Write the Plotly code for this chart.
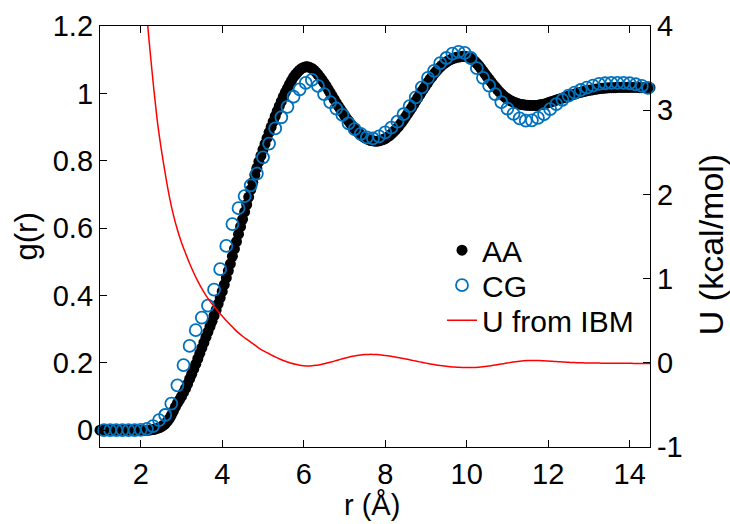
import plotly.graph_objects as go

# ---------------- data ----------------
AA_r = [
    1.00, 1.05, 1.10, 1.15, 1.20, 1.25, 1.30, 1.35, 1.40, 1.45,
    1.50, 1.55, 1.60, 1.65, 1.70, 1.75, 1.80, 1.85, 1.90, 1.95,
    2.00, 2.05, 2.10, 2.15, 2.20, 2.25, 2.30, 2.35, 2.40, 2.45,
    2.50, 2.55, 2.60, 2.65, 2.70, 2.75, 2.80, 2.85, 2.90, 2.95,
    3.00, 3.05, 3.10, 3.15, 3.20, 3.25, 3.30, 3.35, 3.40, 3.45,
    3.50, 3.55, 3.60, 3.65, 3.70, 3.75, 3.80, 3.85, 3.90, 3.95,
    4.00, 4.05, 4.10, 4.15, 4.20, 4.25, 4.30, 4.35, 4.40, 4.45,
    4.50, 4.55, 4.60, 4.65, 4.70, 4.75, 4.80, 4.85, 4.90, 4.95,
    5.00, 5.05, 5.10, 5.15, 5.20, 5.25, 5.30, 5.35, 5.40, 5.45,
    5.50, 5.55, 5.60, 5.65, 5.70, 5.75, 5.80, 5.85, 5.90, 5.95,
    6.00, 6.05, 6.10, 6.15, 6.20, 6.25, 6.30, 6.35, 6.40, 6.45,
    6.50, 6.55, 6.60, 6.65, 6.70, 6.75, 6.80, 6.85, 6.90, 6.95,
    7.00, 7.05, 7.10, 7.15, 7.20, 7.25, 7.30, 7.35, 7.40, 7.45,
    7.50, 7.55, 7.60, 7.65, 7.70, 7.75, 7.80, 7.85, 7.90, 7.95,
    8.00, 8.05, 8.10, 8.15, 8.20, 8.25, 8.30, 8.35, 8.40, 8.45,
    8.50, 8.55, 8.60, 8.65, 8.70, 8.75, 8.80, 8.85, 8.90, 8.95,
    9.00, 9.05, 9.10, 9.15, 9.20, 9.25, 9.30, 9.35, 9.40, 9.45,
    9.50, 9.55, 9.60, 9.65, 9.70, 9.75, 9.80, 9.85, 9.90, 9.95,
    10.00, 10.05, 10.10, 10.15, 10.20, 10.25, 10.30, 10.35, 10.40, 10.45,
    10.50, 10.55, 10.60, 10.65, 10.70, 10.75, 10.80, 10.85, 10.90, 10.95,
    11.00, 11.05, 11.10, 11.15, 11.20, 11.25, 11.30, 11.35, 11.40, 11.45,
    11.50, 11.55, 11.60, 11.65, 11.70, 11.75, 11.80, 11.85, 11.90, 11.95,
    12.00, 12.05, 12.10, 12.15, 12.20, 12.25, 12.30, 12.35, 12.40, 12.45,
    12.50, 12.55, 12.60, 12.65, 12.70, 12.75, 12.80, 12.85, 12.90, 12.95,
    13.00, 13.05, 13.10, 13.15, 13.20, 13.25, 13.30, 13.35, 13.40, 13.45,
    13.50, 13.55, 13.60, 13.65, 13.70, 13.75, 13.80, 13.85, 13.90, 13.95,
    14.00, 14.05, 14.10, 14.15, 14.20, 14.25, 14.30, 14.35, 14.40, 14.45,
    14.50,
]
AA_g = [
    0, 0, 0, 0, 0, 0, 0, 0, 0, 0,
    0, 0, 0, 0, 0, 0, 0, 0, 0, 0,
    0, 0, 0, 0, 0, 0.001, 0.002, 0.003, 0.005, 0.007,
    0.010, 0.014, 0.019, 0.026, 0.034, 0.044, 0.056, 0.069, 0.080, 0.090,
    0.100, 0.112, 0.124, 0.137, 0.152, 0.166, 0.181, 0.196, 0.212, 0.228,
    0.244, 0.260, 0.276, 0.292, 0.308, 0.323, 0.340, 0.357, 0.375, 0.393,
    0.412, 0.432, 0.452, 0.473, 0.494, 0.516, 0.538, 0.560, 0.582, 0.604,
    0.626, 0.648, 0.670, 0.692, 0.714, 0.736, 0.758, 0.778, 0.797, 0.815,
    0.833, 0.850, 0.867, 0.884, 0.900, 0.916, 0.932, 0.947, 0.962, 0.976,
    0.990, 1.003, 1.015, 1.027, 1.038, 1.048, 1.056, 1.063, 1.069, 1.074,
    1.077, 1.079, 1.079, 1.077, 1.074, 1.069, 1.063, 1.056, 1.048, 1.040,
    1.031, 1.022, 1.012, 1.002, 0.992, 0.982, 0.972, 0.962, 0.953, 0.944,
    0.935, 0.926, 0.918, 0.910, 0.902, 0.895, 0.888, 0.882, 0.877, 0.872,
    0.868, 0.865, 0.862, 0.860, 0.859, 0.858, 0.858, 0.859, 0.861, 0.863,
    0.866, 0.870, 0.874, 0.879, 0.885, 0.891, 0.898, 0.905, 0.913, 0.921,
    0.930, 0.939, 0.948, 0.957, 0.967, 0.977, 0.987, 0.996, 1.006, 1.015,
    1.024, 1.033, 1.042, 1.050, 1.058, 1.065, 1.072, 1.078, 1.084, 1.089,
    1.093, 1.097, 1.100, 1.103, 1.105, 1.107, 1.108, 1.109, 1.110, 1.110,
    1.109, 1.107, 1.104, 1.100, 1.095, 1.089, 1.082, 1.074, 1.066, 1.058,
    1.050, 1.042, 1.034, 1.026, 1.019, 1.012, 1.005, 0.999, 0.993, 0.988,
    0.984, 0.980, 0.977, 0.974, 0.972, 0.970, 0.968, 0.967, 0.966, 0.965,
    0.965, 0.964, 0.964, 0.964, 0.964, 0.965, 0.966, 0.967, 0.968, 0.970,
    0.972, 0.974, 0.976, 0.978, 0.980, 0.982, 0.984, 0.986, 0.988, 0.990,
    0.992, 0.994, 0.996, 0.998, 1.000, 1.002, 1.003, 1.005, 1.006, 1.008,
    1.009, 1.010, 1.011, 1.012, 1.013, 1.014, 1.015, 1.015, 1.016, 1.016,
    1.017, 1.017, 1.017, 1.017, 1.018, 1.018, 1.018, 1.018, 1.018, 1.018,
    1.018, 1.018, 1.018, 1.018, 1.018, 1.017, 1.017, 1.017, 1.017, 1.017,
    1.017,
]

CG_r = [
    1.10, 1.25, 1.40, 1.55, 1.70, 1.85, 2.00, 2.15, 2.30, 2.45,
    2.60, 2.75, 2.90, 3.05, 3.20, 3.35, 3.50, 3.65, 3.80, 3.95,
    4.10, 4.25, 4.40, 4.55, 4.70, 4.85, 5.00, 5.15, 5.30, 5.45,
    5.60, 5.75, 5.90, 6.05, 6.20, 6.35, 6.50, 6.65, 6.80, 6.95,
    7.10, 7.25, 7.40, 7.55, 7.70, 7.85, 8.00, 8.15, 8.30, 8.45,
    8.60, 8.75, 8.90, 9.05, 9.20, 9.35, 9.50, 9.65, 9.80, 9.95,
    10.10, 10.25, 10.40, 10.55, 10.70, 10.85, 11.00, 11.15, 11.30, 11.45,
    11.60, 11.75, 11.90, 12.05, 12.20, 12.35, 12.50, 12.65, 12.80, 12.95,
    13.10, 13.25, 13.40, 13.55, 13.70, 13.85, 14.00, 14.15, 14.30, 14.45,
]
CG_g = [
    0, 0, 0, 0, 0, 0, 0.001, 0.004, 0.012, 0.030,
    0.045, 0.079, 0.133, 0.193, 0.250, 0.297, 0.334, 0.370, 0.417, 0.478,
    0.547, 0.612, 0.659, 0.695, 0.727, 0.762, 0.810, 0.851, 0.896, 0.929,
    0.960, 0.990, 1.012, 1.031, 1.040, 1.022, 0.998, 0.974, 0.955, 0.936,
    0.911, 0.894, 0.880, 0.869, 0.866, 0.872, 0.884, 0.898, 0.916, 0.938,
    0.962, 0.988, 1.018, 1.046, 1.067, 1.090, 1.105, 1.118, 1.123, 1.120,
    1.105, 1.075, 1.046, 1.023, 0.998, 0.974, 0.955, 0.939, 0.926, 0.919,
    0.920, 0.927, 0.938, 0.953, 0.968, 0.981, 0.993, 1.002, 1.010, 1.017,
    1.023, 1.028, 1.030, 1.031, 1.031, 1.031, 1.030, 1.027, 1.022, 1.016,
]

U_r = [
    2.1, 2.2, 2.3, 2.4, 2.5, 2.6, 2.7, 2.8, 2.9,
    3.0, 3.1, 3.2, 3.3, 3.4, 3.5, 3.6, 3.7, 3.8, 3.9,
    4.0, 4.1, 4.2, 4.3, 4.4, 4.5, 4.6, 4.7, 4.8, 4.9,
    5.0, 5.1, 5.2, 5.3, 5.4, 5.5, 5.6, 5.7, 5.8, 5.9,
    6.0, 6.1, 6.2, 6.3, 6.4, 6.5, 6.6, 6.7, 6.8, 6.9,
    7.0, 7.1, 7.2, 7.3, 7.4, 7.5, 7.6, 7.7, 7.8, 7.9,
    8.0, 8.1, 8.2, 8.3, 8.4, 8.5, 8.6, 8.7, 8.8, 8.9,
    9.0, 9.1, 9.2, 9.3, 9.4, 9.5, 9.6, 9.7, 9.8, 9.9,
    10.0, 10.1, 10.2, 10.3, 10.4, 10.5, 10.6, 10.7, 10.8, 10.9,
    11.0, 11.1, 11.2, 11.3, 11.4, 11.5, 11.6, 11.7, 11.8, 11.9,
    12.0, 12.1, 12.2, 12.3, 12.4, 12.5, 12.6, 12.7, 12.8, 12.9,
    13.0, 13.1, 13.2, 13.3, 13.4, 13.5, 13.6, 13.7, 13.8, 13.9,
    14.0, 14.1, 14.2, 14.3, 14.4, 14.5,
]
U_val = [
    4.40, 3.85, 3.35, 2.90, 2.55, 2.25, 1.98, 1.76, 1.58,
    1.43, 1.30, 1.18, 1.07, 0.97, 0.88, 0.80, 0.73, 0.67, 0.61,
    0.555, 0.50, 0.45, 0.40, 0.355, 0.315, 0.28, 0.245, 0.21, 0.175,
    0.145, 0.12, 0.095, 0.07, 0.048, 0.028, 0.010, -0.005, -0.018, -0.028,
    -0.034, -0.037, -0.035, -0.030, -0.022, -0.012, 0.0, 0.013, 0.027, 0.041,
    0.054, 0.066, 0.077, 0.086, 0.093, 0.098, 0.100, 0.100, 0.098, 0.094,
    0.088, 0.081, 0.073, 0.064, 0.055, 0.046, 0.036, 0.026, 0.016, 0.006,
    -0.004, -0.013, -0.021, -0.029, -0.036, -0.042, -0.047, -0.051, -0.054, -0.056,
    -0.057, -0.057, -0.055, -0.052, -0.047, -0.041, -0.034, -0.026, -0.018, -0.010,
    -0.002, 0.006, 0.013, 0.019, 0.023, 0.026, 0.027, 0.027, 0.026, 0.024,
    0.021, 0.018, 0.015, 0.012, 0.009, 0.006, 0.004, 0.002, 0.0, -0.001,
    -0.002, -0.003, -0.003, -0.004, -0.004, -0.005, -0.005, -0.005, -0.006, -0.006,
    -0.006, -0.007, -0.007, -0.007, -0.008, -0.008,
]

x_ticks = [2, 4, 6, 8, 10, 12, 14]
g_ticks = [0, 0.2, 0.4, 0.6, 0.8, 1.0, 1.2]
g_ticktext = ["0", "0.2", "0.4", "0.6", "0.8", "1", "1.2"]
U_ticks = [-1, 0, 1, 2, 3, 4]
U_ticktext = ["-1", "0", "1", "2", "3", "4"]

# ---------------- figure ----------------
FONT = "Liberation Sans, Arial, Helvetica, sans-serif"
BLUE = "#0072BD"

fig = go.Figure()
fig.add_trace(go.Scatter(
    x=AA_r, y=AA_g, mode="markers", name="AA", legend="legend",
    marker=dict(symbol="circle", size=11, color="black", line=dict(width=0)),
    cliponaxis=False,
))
fig.add_trace(go.Scatter(
    x=CG_r, y=CG_g, mode="markers", name="CG", legend="legend2",
    marker=dict(symbol="circle-open", size=12, color=BLUE, line=dict(width=1.8, color=BLUE)),
    cliponaxis=False,
))
fig.add_trace(go.Scatter(
    x=U_r, y=U_val, mode="lines", name="U from IBM", yaxis="y2", legend="legend3",
    line=dict(color="#FF0000", width=1.5, shape="spline", smoothing=0.6),
))

axis_common = dict(
    ticks="inside", ticklen=7, tickwidth=1.2, tickcolor="black",
    showline=True, linecolor="black", linewidth=1.3,
    showgrid=False, zeroline=False, automargin=False,
    tickfont=dict(family=FONT, size=29, color="black"),
)


def legend_at(py):
    return dict(
        x=(442 - 100) / 550, y=(446.7 - py) / 420.7, xanchor="left", yanchor="middle",
        bgcolor="rgba(0,0,0,0)", borderwidth=0,
        font=dict(family=FONT, size=30, color="black"),
    )


fig.update_layout(
    template="none",
    width=730, height=524,
    margin=dict(l=100, r=80, t=26, b=77.3, pad=0),
    plot_bgcolor="white", paper_bgcolor="white",
    font=dict(family=FONT, color="black"),
    xaxis=dict(range=[1, 14.5], tickvals=x_ticks, mirror="ticks", ticklabelstandoff=1, **axis_common),
    yaxis=dict(range=[-0.05, 1.2], tickvals=g_ticks, ticktext=g_ticktext, mirror=False, **axis_common),
    yaxis2=dict(range=[-1, 4], tickvals=U_ticks, ticktext=U_ticktext, overlaying="y", side="right", **axis_common),
    legend=legend_at(250),
    legend2=legend_at(285),
    legend3=legend_at(320),
    showlegend=True,
    annotations=[
        dict(text="g(r)", xref="paper", yref="paper", x=(26 - 100) / 550, y=0.5,
             textangle=-90, showarrow=False, font=dict(family=FONT, size=31, color="black"),
             xanchor="center", yanchor="middle"),
        dict(text="r (Å)", xref="paper", yref="paper", x=(372 - 100) / 550, y=(446.7 - 505) / 420.7,
             showarrow=False, font=dict(family=FONT, size=29, color="black"),
             xanchor="center", yanchor="middle"),
        dict(text="U (kcal/mol)", xref="paper", yref="paper", x=(711 - 100) / 550, y=(446.7 - 245) / 420.7,
             textangle=-90, showarrow=False, font=dict(family=FONT, size=34, color="black"),
             xanchor="center", yanchor="middle"),
    ],
)

fig.write_html(
    "out.html",
    config={"displayModeBar": False},
    post_script="document.body.style.margin='0px';document.body.style.overflow='hidden';",
)
